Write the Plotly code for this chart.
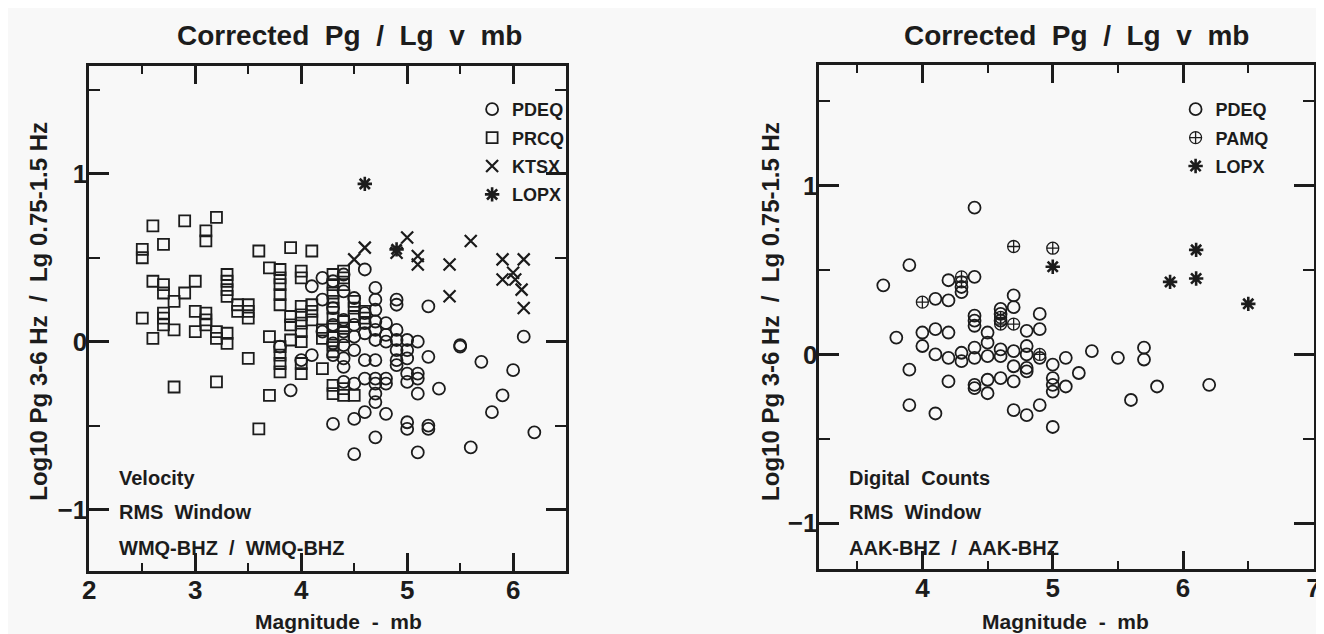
import plotly.graph_objects as go

W, H = 1324, 634

# ---- left panel: WMQ-BHZ, velocity ----
l_pdeq_mb = [3.8, 3.9, 4.0, 4.1, 4.1, 4.2, 4.2, 4.2,
             4.3, 4.3, 4.3, 4.3, 4.3, 4.3,
             4.4, 4.4, 4.4, 4.4, 4.4, 4.4, 4.4, 4.4,
             4.5, 4.5, 4.5, 4.5, 4.5, 4.5, 4.5,
             4.6, 4.6, 4.6, 4.6, 4.6, 4.6, 4.6,
             4.7, 4.7, 4.7, 4.7, 4.7, 4.7, 4.7, 4.7, 4.7, 4.7, 4.7, 4.7,
             4.8, 4.8, 4.8, 4.8, 4.8, 4.8,
             4.9, 4.9, 4.9, 4.9, 4.9, 4.9, 4.9,
             5.0, 5.0, 5.0, 5.0, 5.0, 5.0, 5.0,
             5.1, 5.1, 5.1, 5.1, 5.1,
             5.2, 5.2, 5.2, 5.2, 5.3, 5.5, 5.5, 5.6, 5.7, 5.8, 5.9, 6.0, 6.1, 6.2]
l_pdeq_ratio = [-0.03, -0.29, -0.11, 0.33, -0.08, 0.38, 0.25, 0.06,
                0.36, 0.20, 0.10, -0.01, -0.08, -0.49,
                0.40, 0.30, 0.13, 0.06, -0.02, -0.10, -0.15, -0.24,
                0.26, 0.10, 0.03, -0.05, -0.25, -0.46, -0.67,
                0.43, 0.17, 0.11, 0.05, -0.11, -0.22, -0.42,
                0.32, 0.25, 0.19, 0.12, 0.07, 0.01, -0.11, -0.22, -0.25, -0.31, -0.36, -0.57,
                0.11, 0.04, 0.00, -0.22, -0.25, -0.43,
                0.25, 0.22, 0.07, 0.01, -0.05, -0.11, -0.14,
                0.01, -0.05, -0.10, -0.19, -0.24, -0.48, -0.52,
                0.00, -0.19, -0.22, -0.31, -0.66,
                0.21, -0.09, -0.50, -0.52, -0.28, -0.02, -0.03, -0.63, -0.12, -0.42, -0.32, -0.17, 0.03, -0.54]

l_prcq_mb = [2.5, 2.5, 2.5, 2.6, 2.6, 2.6,
             2.7, 2.7, 2.7, 2.7, 2.7, 2.7, 2.8, 2.8, 2.8, 2.9, 2.9,
             3.0, 3.0, 3.0, 3.1, 3.1, 3.1, 3.1, 3.1,
             3.2, 3.2, 3.2, 3.2, 3.3, 3.3, 3.3, 3.3, 3.3, 3.3,
             3.4, 3.4, 3.5, 3.5, 3.5, 3.5, 3.6, 3.6, 3.7, 3.7, 3.7,
             3.8, 3.8, 3.8, 3.8, 3.8, 3.8, 3.8, 3.8, 3.8,
             3.9, 3.9, 3.9, 3.9,
             4.0, 4.0, 4.0, 4.0, 4.0, 4.0, 4.0, 4.0, 4.0,
             4.1, 4.1, 4.1, 4.1, 4.2, 4.2, 4.2,
             4.3, 4.3, 4.3, 4.3, 4.3, 4.3, 4.3, 4.3, 4.3, 4.3, 4.3, 4.3,
             4.4, 4.4, 4.4, 4.4, 4.4, 4.4, 4.4, 4.4,
             4.5, 4.5, 4.5, 4.5, 4.6, 4.6]
l_prcq_ratio = [0.55, 0.50, 0.14, 0.69, 0.36, 0.02,
                0.58, 0.34, 0.29, 0.17, 0.14, 0.10, 0.24, 0.07, -0.27, 0.72, 0.29,
                0.36, 0.18, 0.06, 0.66, 0.60, 0.17, 0.13, 0.10,
                0.74, 0.06, 0.02, -0.24, 0.40, 0.36, 0.31, 0.27, 0.05, -0.01,
                0.22, 0.18, 0.22, 0.18, 0.14, -0.10, 0.54, -0.52, 0.44, 0.03, -0.32,
                0.43, 0.38, 0.34, 0.28, 0.22, -0.03, -0.08, -0.13, -0.18,
                0.56, 0.15, 0.10, 0.01,
                0.42, 0.38, 0.21, 0.16, 0.11, 0.06, 0.00, -0.13, -0.19,
                0.54, 0.22, 0.18, 0.13, 0.07, 0.02, -0.16,
                0.40, 0.34, 0.29, 0.24, 0.20, 0.14, 0.09, 0.03, -0.02, -0.06, -0.26, -0.31,
                0.42, 0.38, 0.34, 0.12, 0.08, 0.03, -0.28, -0.32,
                0.24, 0.20, 0.15, -0.32, 0.18, 0.14]

l_ktsx_mb = [4.5, 4.6, 4.9, 5.0, 5.1, 5.1, 5.4, 5.4, 5.6, 5.9, 5.9, 6.0, 6.02, 6.08, 6.1, 6.1]
l_ktsx_ratio = [0.49, 0.56, 0.53, 0.62, 0.51, 0.46, 0.46, 0.27, 0.60, 0.49, 0.37, 0.41, 0.37, 0.31, 0.49, 0.20]

l_lopx_mb = [4.6, 4.9]
l_lopx_ratio = [0.94, 0.55]

# ---- right panel: AAK-BHZ, digital counts ----
r_pdeq_mb = [3.7, 3.8, 3.9, 3.9, 3.9, 4.0, 4.0,
             4.1, 4.1, 4.1, 4.1, 4.2, 4.2, 4.2, 4.2, 4.2,
             4.3, 4.3, 4.3, 4.3,
             4.4, 4.4, 4.4, 4.4, 4.4, 4.4, 4.4, 4.4, 4.4,
             4.5, 4.5, 4.5, 4.5, 4.5,
             4.6, 4.6, 4.6, 4.6, 4.6, 4.6,
             4.7, 4.7, 4.7, 4.7, 4.7, 4.7,
             4.8, 4.8, 4.8, 4.8, 4.8, 4.8,
             4.9, 4.9, 4.9, 4.9,
             5.0, 5.0, 5.0, 5.0, 5.0,
             5.1, 5.1, 5.2, 5.3, 5.5, 5.6, 5.7, 5.7, 5.8, 6.2]
r_pdeq_ratio = [0.41, 0.10, 0.53, -0.09, -0.30, 0.13, 0.05,
                0.33, 0.15, 0.00, -0.35, 0.44, 0.32, 0.13, -0.02, -0.16,
                0.40, 0.37, 0.01, -0.04,
                0.87, 0.46, 0.23, 0.20, 0.17, 0.04, -0.02, -0.18, -0.20,
                0.13, 0.07, -0.01, -0.15, -0.23,
                0.27, 0.24, 0.20, 0.03, -0.01, -0.14,
                0.35, 0.28, 0.02, -0.07, -0.16, -0.33,
                0.14, 0.05, 0.00, -0.08, -0.10, -0.36,
                0.24, 0.15, -0.02, -0.30,
                -0.06, -0.14, -0.18, -0.22, -0.43,
                -0.02, -0.19, -0.11, 0.02, -0.02, -0.27, 0.04, -0.03, -0.19, -0.18]

r_pamq_mb = [4.0, 4.3, 4.3, 4.6, 4.6, 4.7, 4.7, 4.9, 5.0]
r_pamq_ratio = [0.31, 0.46, 0.43, 0.22, 0.18, 0.64, 0.18, 0.00, 0.63]

r_lopx_mb = [5.0, 5.9, 6.1, 6.1, 6.5]
r_lopx_ratio = [0.52, 0.43, 0.62, 0.45, 0.30]

INK = '#1c1c1c'
FONT = 'Liberation Sans, Arial, sans-serif'


def px(v):
    return v / W


def py(v):
    return 1 - v / H


def txt(size):
    return dict(family=FONT, size=size, color=INK, weight='bold')


fig = go.Figure()

left_series = [
    ('PDEQ', l_pdeq_mb, l_pdeq_ratio, 'circle-open', 12, 1.8),
    ('PRCQ', l_prcq_mb, l_prcq_ratio, 'square-open', 11, 1.8),
    ('KTSX', l_ktsx_mb, l_ktsx_ratio, 'x-thin-open', 12, 2.2),
    ('LOPX', l_lopx_mb, l_lopx_ratio, 'asterisk-open', 12, 2.6),
]
for name, xs, ys, sym, size, lw in left_series:
    fig.add_trace(go.Scatter(
        x=xs, y=ys, mode='markers', name=name, xaxis='x', yaxis='y',
        legend='legend', legendgroup='left-' + name,
        marker=dict(symbol=sym, size=size, color=INK, line=dict(width=lw, color=INK))
    ))

right_series = [
    ('PDEQ', r_pdeq_mb, r_pdeq_ratio, 'circle-open', 12, 1.8),
    ('PAMQ', r_pamq_mb, r_pamq_ratio, 'circle-cross-open', 12, 1.3),
    ('LOPX', r_lopx_mb, r_lopx_ratio, 'asterisk-open', 12, 2.6),
]
for name, xs, ys, sym, size, lw in right_series:
    fig.add_trace(go.Scatter(
        x=xs, y=ys, mode='markers', name=name, xaxis='x2', yaxis='y2',
        legend='legend2', legendgroup='right-' + name,
        marker=dict(symbol=sym, size=size, color=INK, line=dict(width=lw, color=INK))
    ))


def frame_axis(rng, domain, anchor, major_len, minor_len, standoff):
    return dict(
        range=rng, domain=domain, anchor=anchor,
        tick0=0, dtick=1, ticks='inside', ticklen=major_len, tickwidth=2.5, tickcolor=INK,
        showline=True, linewidth=2.5, linecolor=INK, mirror='allticks',
        showgrid=False, zeroline=False, ticklabelstandoff=standoff,
        minor=dict(tick0=0, dtick=0.5, ticks='inside', ticklen=minor_len, tickwidth=2,
                   tickcolor=INK, showgrid=False),
        tickfont=txt(26),
    )


sp = '\u00a0\u00a0'
annotations = []
for cx in [338, 1073]:
    annotations.append(dict(text=f'Corrected{sp}Pg{sp}/{sp}Lg{sp}v{sp}mb', x=px(cx), y=py(28),
                            xref='paper', yref='paper', showarrow=False,
                            xanchor='center', yanchor='middle', font=txt(28)))
for cx in [327, 1062]:
    annotations.append(dict(text=f'Magnitude{sp}-{sp}mb', x=px(cx), y=py(613),
                            xref='paper', yref='paper', showarrow=False,
                            xanchor='center', yanchor='middle', font=txt(21)))
for cx in [23, 763]:
    annotations.append(dict(text=f'Log10\u00a0Pg\u00a03-6\u00a0Hz{sp}/{sp}Lg\u00a00.75-1.5\u00a0Hz',
                            x=px(cx), y=py(303), xref='paper', yref='paper', showarrow=False,
                            textangle=-90, xanchor='center', yanchor='middle', font=txt(24)))
corner_notes = [
    (103, ['Velocity', f'RMS{sp}Window', f'WMQ-BHZ{sp}/{sp}WMQ-BHZ']),
    (841, [f'Digital{sp}Counts', f'RMS{sp}Window', f'AAK-BHZ{sp}/{sp}AAK-BHZ']),
]
for lx, lines in corner_notes:
    for ly, line in zip([470, 504, 540], lines):
        annotations.append(dict(text=line, x=px(lx), y=py(ly), xref='paper', yref='paper',
                                showarrow=False, xanchor='left', yanchor='middle', font=txt(20)))

legend_style = dict(bgcolor='rgba(0,0,0,0)', borderwidth=0, font=txt(18),
                    itemwidth=30, xanchor='left', yanchor='top', tracegroupgap=2)

fig.update_layout(
    width=W, height=H,
    margin=dict(l=0, r=0, t=0, b=0),
    paper_bgcolor='#f8f8f8', plot_bgcolor='#f8f8f8',
    xaxis=frame_axis([1.999, 6.5], [px(75), px(557)], 'y', 18, 8, -6),
    yaxis=frame_axis([-1.366, 1.642], [py(563), py(58)], 'x', 20, 11, -6),
    xaxis2=frame_axis([3.21, 7.005], [px(813), px(1313)], 'y2', 18, 8, -6),
    yaxis2=frame_axis([-1.272, 1.716], [py(561), py(57)], 'x2', 20, 11, -6),
    legend=dict(x=px(462), y=py(83), **legend_style),
    legend2=dict(x=px(1173), y=py(83), **legend_style),
    annotations=annotations,
    showlegend=True,
)

fig.write_html('out.html')
